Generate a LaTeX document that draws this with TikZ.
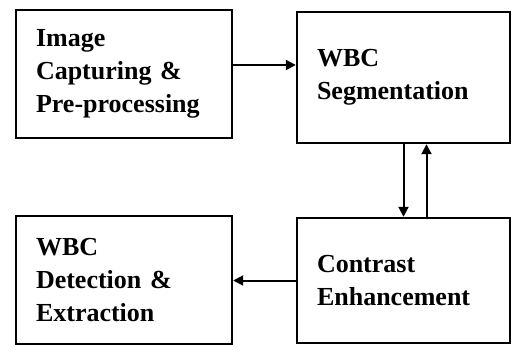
\documentclass[tikz,border=0pt]{standalone}
\usepackage{fontspec}
\setmainfont{Liberation Serif}
\usetikzlibrary{arrows.meta}

\begin{document}
\begin{tikzpicture}[x=1pt,y=-1pt]
\tikzset{bloc/.style={draw, line width=2.4pt, inner xsep=20pt, align=left,
  font=\fontsize{26}{33}\selectfont\bfseries}}
\tikzset{fleche/.style={line width=2pt, -{Triangle[length=10pt,width=10pt]}}}
\useasboundingbox (0,0) rectangle (511,347);
\node[bloc, minimum width=216pt, minimum height=128pt, text width=176pt] (capture) at (124,74) {Image\\Capturing \&\\Pre-processing};
\node[bloc, minimum width=213pt, minimum height=131pt, text width=173pt] (segment) at (403.5,77.5) {WBC\\Segmentation};
\node[bloc, minimum width=213pt, minimum height=125pt, text width=173pt] (contrast) at (403.5,280.5) {Contrast\\Enhancement};
\node[bloc, minimum width=216pt, minimum height=128pt, text width=176pt] (detect) at (124,280) {WBC\\Detection \&\\Extraction};
\coordinate (C1) at ([yshift=9pt]capture.east);
\coordinate (C2) at ([xshift=23pt]contrast.north);
\draw[fleche] (C1) -- (C1 -| segment.west);
\draw[fleche] (segment.south) -- (segment.south |- contrast.north);
\draw[fleche] (C2) -- (C2 |- segment.south);
\draw[fleche] (contrast.west) -- (contrast.west -| detect.east);
\end{tikzpicture}
\end{document}
